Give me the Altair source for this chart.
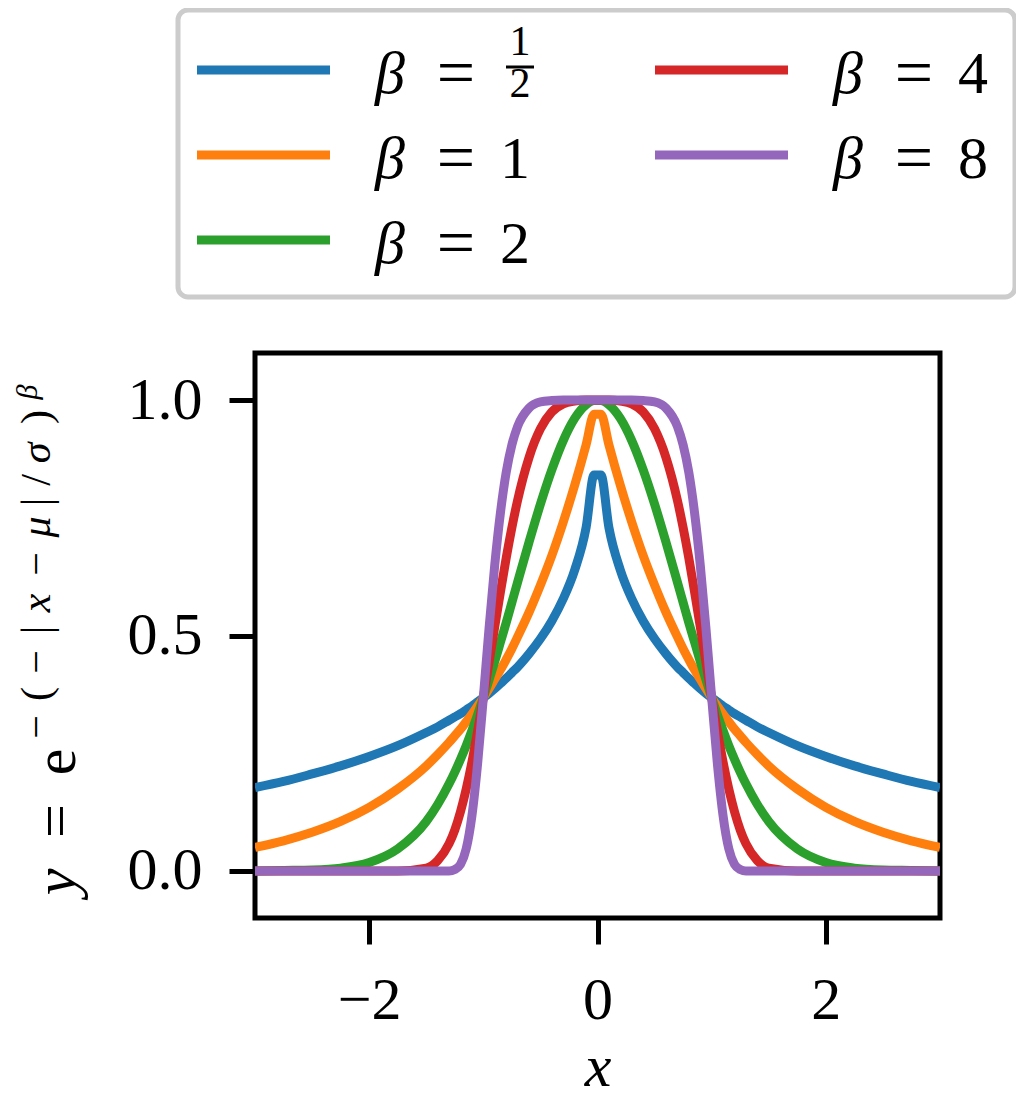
import altair as alt
import pandas as pd

# ---------------- data ----------------
# sample positions for x >= 0 (curves are symmetric about x = 0)
x_half = [0.03, 0.1, 0.2, 0.3, 0.4, 0.5, 0.6, 0.7, 0.75, 0.8, 0.85, 0.9, 0.95,
          1.0, 1.05, 1.1, 1.15, 1.2, 1.25, 1.3, 1.4, 1.5, 1.75, 2.0, 2.25, 2.5, 2.75, 3.0]

beta_labels = ["1/2", "1", "2", "4", "8"]

y_b05 = [0.841, 0.729, 0.639, 0.578, 0.531, 0.493, 0.461, 0.433, 0.421, 0.409, 0.398, 0.387, 0.377,
         0.368, 0.359, 0.350, 0.342, 0.334, 0.327, 0.320, 0.306, 0.294, 0.266, 0.243, 0.223, 0.206, 0.190, 0.177]
y_b1 = [0.970, 0.905, 0.819, 0.741, 0.670, 0.607, 0.549, 0.497, 0.472, 0.449, 0.427, 0.407, 0.387,
        0.368, 0.350, 0.333, 0.317, 0.301, 0.287, 0.273, 0.247, 0.223, 0.174, 0.135, 0.105, 0.082, 0.064, 0.050]
y_b2 = [0.999, 0.990, 0.961, 0.914, 0.852, 0.779, 0.698, 0.613, 0.570, 0.527, 0.486, 0.445, 0.406,
        0.368, 0.332, 0.298, 0.266, 0.237, 0.210, 0.185, 0.141, 0.105, 0.047, 0.018, 0.006, 0.002, 0.001, 0.000]
y_b4 = [1.000, 1.000, 0.998, 0.992, 0.975, 0.939, 0.878, 0.787, 0.729, 0.664, 0.593, 0.519, 0.443,
        0.368, 0.297, 0.231, 0.174, 0.126, 0.087, 0.058, 0.022, 0.006, 0.000, 0.000, 0.000, 0.000, 0.000, 0.000]
y_b8 = [1.000, 1.000, 1.000, 1.000, 0.999, 0.996, 0.983, 0.944, 0.905, 0.846, 0.761, 0.650, 0.515,
        0.368, 0.228, 0.117, 0.047, 0.014, 0.003, 0.000, 0.000, 0.000, 0.000, 0.000, 0.000, 0.000, 0.000, 0.000]

x_ticks = [-2, 0, 2]
y_ticks = [0.0, 0.5, 1.0]

legend_col = [0, 0, 0, 1, 1]
legend_row = [0, 1, 2, 0, 1]

colors = ["#1f77b4", "#ff7f0e", "#2ca02c", "#d62728", "#9467bd"]

# ---------------- tables ----------------
series = [y_b05, y_b1, y_b2, y_b4, y_b8]
rows = []
for lab, ys in zip(beta_labels, series):
    for xv, yv in zip(reversed(x_half), reversed(ys)):
        rows.append({"x": -xv, "y": yv, "beta": lab})
    for xv, yv in zip(x_half, ys):
        rows.append({"x": xv, "y": yv, "beta": lab})
df = pd.DataFrame(rows)

leg = pd.DataFrame({
    "beta": beta_labels,
    "col": legend_col,
    "row": legend_row,
    "num": ["" if "/" in b else b for b in beta_labels],
})
one = pd.DataFrame({"k": [0]})

SERIF = "Liberation Serif"
W, H = 685, 565

# ---------------- main curves ----------------
xenc = alt.X("x:Q", scale=alt.Scale(domain=[-3, 3], nice=False, zero=False),
             axis=alt.Axis(values=x_ticks, format="d", title="x", titleFontStyle="italic",
                           titlePadding=8))
yenc = alt.Y("y:Q", scale=alt.Scale(domain=[-0.1, 1.1], nice=False, zero=False),
             axis=alt.Axis(values=y_ticks, format=".1f", title=None))

line_layers = []
for lab, c in zip(beta_labels, colors):
    line_layers.append(
        alt.Chart(df).transform_filter(alt.datum.beta == lab)
        .mark_line(strokeWidth=9, clip=True, interpolate="monotone", strokeJoin="round", color=c)
        .encode(x=xenc, y=yenc)
    )
curves = alt.layer(*line_layers)

# ---------------- legend ----------------
lx = alt.X("col:Q", scale=alt.Scale(domain=[0, 1], range=[-58, 400]), axis=None)
lx2 = alt.X2("col:Q")
ly = alt.Y("row:Q", scale=alt.Scale(domain=[0, 2], range=[-283, -113]), axis=None)

swatch = alt.Chart(leg).mark_rule(strokeWidth=9, x2Offset=133).encode(
    x=lx, x2=lx2, y=ly,
    color=alt.Color("beta:N", scale=alt.Scale(domain=beta_labels, range=colors), legend=None),
)
sym = alt.Chart(leg).mark_text(text="β", font=SERIF, fontSize=60, fontStyle="italic",
                               align="left", baseline="alphabetic", dx=178, dy=23,
                               color="black").encode(x=lx, y=ly)
eq = alt.Chart(leg).mark_text(text="=", font=SERIF, fontSize=68, align="center",
                              baseline="alphabetic", dx=259, dy=25, color="black").encode(x=lx, y=ly)
num = alt.Chart(leg).transform_filter(alt.datum.num != "").mark_text(
    font=SERIF, fontSize=60, align="center", baseline="alphabetic", dx=318, dy=23,
    color="black").encode(x=lx, y=ly, text="num:N")
frac = alt.Chart(leg).transform_filter(alt.datum.beta == "1/2")
numer = frac.mark_text(text="1", font=SERIF, fontSize=42, align="center", baseline="alphabetic",
                       dx=323, dy=-15, color="black").encode(x=lx, y=ly)
denom = frac.mark_text(text="2", font=SERIF, fontSize=42, align="center", baseline="alphabetic",
                       dx=323, dy=27, color="black").encode(x=lx, y=ly)
fbar = frac.mark_rule(strokeWidth=3, xOffset=309, x2Offset=337, yOffset=-3, color="black").encode(
    x=lx, x2=lx2, y=ly)

legend_items = alt.layer(swatch, sym, eq, num, numer, denom, fbar)

box = alt.Chart(one).mark_rect(fill="white", stroke="#cccccc", strokeWidth=5, cornerRadius=10).encode(
    x=alt.value(-77), x2=alt.value(760), y=alt.value(-343), y2=alt.value(-56))

# ---------------- y-axis title  y = e^{-(-|x-mu|/sigma)^beta} ----------------
title_glyphs = [
    # glyph, centre along the axis (page y), baseline (page x), size, italic
    ("y", 882, 75, 60, True),
    ("=", 821, 75, 60, False),
    ("e", 762, 75, 60, False),
    ("−", 727, 50, 42, False),
    ("(", 694, 50, 42, False),
    ("−", 662, 50, 42, False),
    ("|", 630, 50, 42, False),
    ("x", 603, 50, 42, True),
    ("−", 564, 50, 42, False),
    ("μ", 527, 50, 42, True),
    ("|", 502, 50, 42, False),
    ("/", 480, 50, 42, False),
    ("σ", 453, 50, 42, True),
    (")", 417, 50, 42, False),
    ("β", 392, 37, 30, True),
]
ox, oy = 255, 353
glyph_layers = []
for g, cy, bx, fs, it in title_glyphs:
    glyph_layers.append(
        alt.Chart(one).mark_text(text=g, font=SERIF, fontSize=fs, angle=270, align="center",
                                 baseline="alphabetic", color="black",
                                 fontStyle="italic" if it else "normal")
        .encode(x=alt.value(bx - ox), y=alt.value(cy - oy))
    )

chart = (
    alt.layer(box, curves, legend_items, *glyph_layers)
    .resolve_scale(x="independent", y="independent", color="independent")
    .properties(width=W, height=H,
                autosize=alt.AutoSizeParams(type="none"),
                padding={"left": 247, "top": 345, "right": 76, "bottom": 184},
                background="white")
    .configure_view(stroke="black", strokeWidth=5)
    .configure_axis(labelFont=SERIF, labelFontSize=60, labelColor="black",
                    titleFont=SERIF, titleFontSize=60, titleColor="black", titleFontWeight="normal",
                    tickColor="black", tickWidth=5, tickSize=26, labelPadding=27,
                    domain=False, grid=False)
)

chart.save("out.html", embed_options={"renderer": "svg", "actions": False})
